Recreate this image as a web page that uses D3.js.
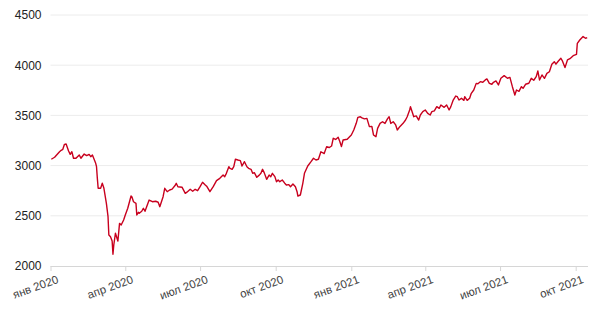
<!DOCTYPE html>
<html>
<head>
<meta charset="utf-8">
<script src="https://cdn.jsdelivr.net/npm/d3@7"></script>
<style>
  body { margin: 0; background: #fff; }
  #chart { width: 600px; height: 315px; }
</style>
</head>
<body>
<div id="chart"></div>
<script>
// index values (date, value)
const dates = [
  "2020-01-02","2020-01-06","2020-01-12","2020-01-14","2020-01-16","2020-01-18","2020-01-20","2020-01-23","2020-01-25","2020-01-27",
  "2020-01-29","2020-02-01","2020-02-05","2020-02-07","2020-02-11","2020-02-14","2020-02-17","2020-02-19","2020-02-21","2020-02-25",
  "2020-02-26","2020-02-27","2020-02-28","2020-03-02","2020-03-04","2020-03-06","2020-03-09","2020-03-11","2020-03-12","2020-03-14",
  "2020-03-16","2020-03-17","2020-03-18","2020-03-20","2020-03-23","2020-03-25","2020-03-27","2020-03-30","2020-04-01","2020-04-04",
  "2020-04-08","2020-04-09","2020-04-11","2020-04-14","2020-04-15","2020-04-17","2020-04-18","2020-04-21","2020-04-23","2020-04-25",
  "2020-04-27","2020-04-30","2020-05-04","2020-05-08","2020-05-11","2020-05-13","2020-05-17","2020-05-19","2020-05-22","2020-05-25",
  "2020-05-28","2020-06-01","2020-06-02","2020-06-04","2020-06-09","2020-06-13","2020-06-15","2020-06-19","2020-06-22","2020-06-25",
  "2020-06-28","2020-07-01","2020-07-04","2020-07-07","2020-07-09","2020-07-13","2020-07-17","2020-07-21","2020-07-25","2020-07-29",
  "2020-07-31","2020-08-02","2020-08-05","2020-08-06","2020-08-09","2020-08-11","2020-08-13","2020-08-16","2020-08-19","2020-08-21",
  "2020-08-24","2020-08-27","2020-08-29","2020-09-01","2020-09-03","2020-09-05","2020-09-08","2020-09-11","2020-09-13","2020-09-15",
  "2020-09-17","2020-09-20","2020-09-23","2020-09-25","2020-09-27","2020-09-30","2020-10-02","2020-10-04","2020-10-06","2020-10-09",
  "2020-10-12","2020-10-14","2020-10-17","2020-10-19","2020-10-22","2020-10-25","2020-10-27","2020-10-28","2020-10-31","2020-11-03",
  "2020-11-05","2020-11-09","2020-11-13","2020-11-16","2020-11-19","2020-11-22","2020-11-25","2020-11-29","2020-12-02","2020-12-05",
  "2020-12-08","2020-12-10","2020-12-13","2020-12-16","2020-12-18","2020-12-20","2020-12-22","2020-12-27","2021-01-01","2021-01-04",
  "2021-01-07","2021-01-09","2021-01-12","2021-01-14","2021-01-17","2021-01-20","2021-01-23","2021-01-26","2021-01-28","2021-01-31",
  "2021-02-02","2021-02-05","2021-02-08","2021-02-11","2021-02-14","2021-02-16","2021-02-18","2021-02-21","2021-02-24","2021-02-26",
  "2021-03-01","2021-03-05","2021-03-08","2021-03-10","2021-03-13","2021-03-14","2021-03-16","2021-03-18","2021-03-21","2021-03-24",
  "2021-03-26","2021-03-29","2021-04-01","2021-04-04","2021-04-07","2021-04-09","2021-04-12","2021-04-15","2021-04-18","2021-04-20",
  "2021-04-24","2021-04-27","2021-04-30","2021-05-02","2021-05-05","2021-05-08","2021-05-10","2021-05-12","2021-05-15","2021-05-18",
  "2021-05-19","2021-05-22","2021-05-25","2021-05-27","2021-05-30","2021-06-02","2021-06-04","2021-06-07","2021-06-10","2021-06-13",
  "2021-06-15","2021-06-18","2021-06-21","2021-06-23","2021-06-26","2021-06-29","2021-07-02","2021-07-06","2021-07-10","2021-07-13",
  "2021-07-16","2021-07-19","2021-07-21","2021-07-24","2021-07-27","2021-07-29","2021-08-01","2021-08-05","2021-08-08","2021-08-11",
  "2021-08-14","2021-08-16","2021-08-18","2021-08-21","2021-08-24","2021-08-27","2021-08-30","2021-09-02","2021-09-05","2021-09-07",
  "2021-09-10","2021-09-13","2021-09-15","2021-09-18","2021-09-21","2021-09-24","2021-09-28","2021-10-02","2021-10-03","2021-10-06",
  "2021-10-10","2021-10-13","2021-10-15"
];
const values = [
  3063,3083,3138,3152,3162,3212,3215,3145,3112,3138,
  3073,3073,3106,3073,3115,3099,3112,3089,3106,3023,
  2989,2873,2774,2774,2824,2774,2624,2491,2309,2292,
  2249,2117,2209,2326,2249,2425,2408,2458,2508,2575,
  2697,2690,2640,2624,2508,2535,2525,2545,2575,2545,
  2591,2657,2640,2645,2635,2591,2690,2774,2740,2757,
  2765,2807,2824,2790,2785,2724,2735,2764,2745,2764,
  2750,2790,2834,2810,2795,2740,2790,2850,2873,2906,
  2890,2923,2989,2975,2963,2990,3063,3056,3050,2996,
  3039,2989,2973,2963,2923,2930,2883,2905,2923,2963,
  2930,2863,2906,2890,2923,2890,2840,2857,2840,2857,
  2825,2807,2810,2790,2817,2790,2740,2697,2707,2824,
  2923,2996,3039,3073,3056,3063,3138,3120,3189,3180,
  3195,3272,3260,3282,3240,3189,3255,3262,3305,3355,
  3421,3481,3487,3475,3465,3470,3388,3390,3305,3288,
  3371,3421,3437,3420,3465,3487,3420,3437,3405,3355,
  3388,3421,3454,3487,3554,3587,3537,3487,3495,3454,
  3504,3537,3554,3520,3504,3537,3545,3587,3570,3604,
  3580,3604,3554,3585,3653,3693,3686,3653,3670,3650,
  3686,3650,3670,3720,3753,3819,3815,3836,3830,3853,
  3863,3819,3810,3830,3843,3803,3870,3896,3870,3879,
  3786,3703,3753,3740,3786,3770,3810,3820,3869,3850,
  3886,3942,3853,3903,3869,3919,3935,4009,4035,4010,
  4042,4069,4040,3976,4052,4065,4095,4108,4218,4251,
  4285,4268,4275
];
const yTicks = [2000, 2500, 3000, 3500, 4000, 4500];
const xTickDates = ["2020-01-01","2020-04-01","2020-07-01","2020-10-01","2021-01-01","2021-04-01","2021-07-01","2021-10-01"];
const monthNames = ["янв","фев","мар","апр","май","июн","июл","авг","сен","окт","ноя","дек"];

const width = 600, height = 315;
const margin = { top: 15, right: 12, bottom: 49, left: 50.5 };

const parse = d3.timeParse("%Y-%m-%d");
const points = dates.map((d, i) => ({ date: parse(d), value: values[i] }));

const svg = d3.select("#chart")
  .append("svg")
  .attr("width", width)
  .attr("height", height)
  .style("font-family", "'Liberation Sans', Arial, sans-serif");

const x = d3.scaleTime()
  .domain([parse("2020-01-01"), parse("2021-10-16")])
  .range([margin.left, width - margin.right]);

const y = d3.scaleLinear()
  .domain([2000, 4500])
  .range([height - margin.bottom, margin.top]);

// horizontal grid
svg.append("g")
  .selectAll("line")
  .data(yTicks.slice(1))
  .enter().append("line")
  .attr("x1", margin.left)
  .attr("x2", width - margin.right)
  .attr("y1", d => y(d))
  .attr("y2", d => y(d))
  .attr("stroke", "#ececec")
  .attr("stroke-width", 1);

// y axis labels
const yAxis = svg.append("g")
  .attr("transform", `translate(${margin.left - 9},0)`)
  .call(d3.axisLeft(y).tickValues(yTicks).tickSize(0).tickPadding(0).tickFormat(d3.format("d")));
yAxis.select(".domain").remove();
yAxis.selectAll("text")
  .attr("font-size", "12px")
  .attr("fill", "#222")
  .attr("font-family", "'Liberation Sans', Arial, sans-serif");

// x axis
const xAxis = svg.append("g")
  .attr("transform", `translate(0,${height - margin.bottom})`)
  .call(d3.axisBottom(x)
    .tickValues(xTickDates.map(parse))
    .tickSize(5)
    .tickFormat(d => monthNames[d.getMonth()] + " " + d.getFullYear()));
xAxis.select(".domain")
  .attr("stroke", "#d6d6d6")
  .attr("d", `M${margin.left},0.5H${width - margin.right}`);
xAxis.selectAll(".tick line").attr("stroke", "#d6d6d6");
xAxis.selectAll("text")
  .attr("font-size", "11.5px")
  .attr("fill", "#444")
  .attr("font-family", "'Liberation Sans', Arial, sans-serif")
  .attr("text-anchor", "end")
  .attr("dx", "2")
  .attr("dy", "0.9em")
  .attr("transform", "rotate(-20)");

// the line
const line = d3.line()
  .x(d => x(d.date))
  .y(d => y(d.value));

svg.append("path")
  .datum(points)
  .attr("fill", "none")
  .attr("stroke", "#c8001e")
  .attr("stroke-width", 1.4)
  .attr("stroke-linejoin", "round")
  .attr("d", line);
</script>
</body>
</html>
